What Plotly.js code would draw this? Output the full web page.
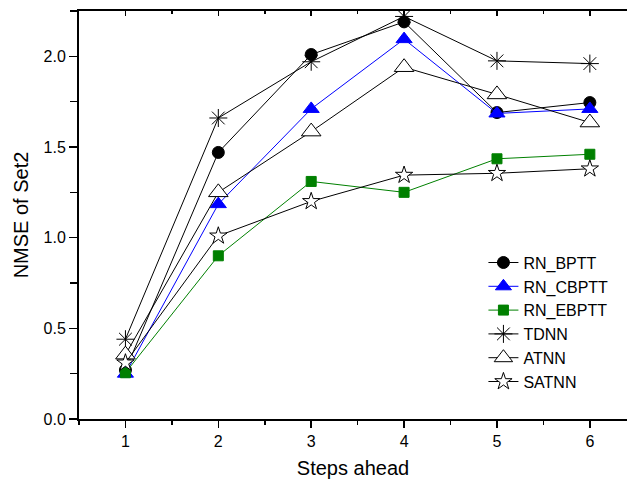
<!DOCTYPE html>
<html>
<head>
<meta charset="utf-8">
<script src="https://cdn.plot.ly/plotly-3.0.1.min.js"></script>
<style>html,body{margin:0;padding:0;background:#fff;}</style>
</head>
<body>
<div id="chart" style="width:627px;height:485px;"></div>
<script>
var steps = [1, 2, 3, 4, 5, 6];
var rnBPTT  = [0.27, 1.47, 2.01, 2.19, 1.69, 1.745];
var rnCBPTT = [0.25, 1.185, 1.71, 2.095, 1.685, 1.71];
var rnEBPTT = [0.255, 0.9, 1.31, 1.25, 1.435, 1.46];
var tdnn    = [0.44, 1.66, 1.97, 2.22, 1.975, 1.96];
var atnn    = [0.355, 1.25, 1.585, 1.94, 1.79, 1.635];
var satnn   = [0.31, 1.01, 1.2, 1.345, 1.355, 1.38];

var FONT = "Arial, 'Liberation Sans', sans-serif";

function tr(name, y, color, symbol, size, fill, lineColor) {
  return {
    x: steps, y: y, name: name, type: 'scatter', mode: 'lines+markers',
    line: {color: color, width: 1},
    marker: {symbol: symbol, size: size, color: fill,
             line: {color: lineColor, width: 1}}
  };
}

var data = [
  tr('RN_BPTT', rnBPTT, '#000000', 'circle', 12, '#000000', '#000000'),
  tr('RN_CBPTT', rnCBPTT, '#0000ff', 'triangle-up', 14, '#0000ff', '#0000ff'),
  tr('RN_EBPTT', rnEBPTT, '#008000', 'square', 10, '#008000', '#008000'),
  tr('TDNN', tdnn, '#000000', 'asterisk-open', 15, '#000000', '#000000'),
  tr('ATNN', atnn, '#000000', 'triangle-up', 17, '#ffffff', '#000000'),
  tr('SATNN', satnn, '#000000', 'star', 13, '#ffffff', '#000000')
];

var layout = {
  width: 627, height: 485,
  margin: {l: 79, r: 0, t: 11, b: 66},
  paper_bgcolor: '#ffffff', plot_bgcolor: '#ffffff',
  font: {family: FONT, color: '#000000', size: 16},
  showlegend: true,
  legend: {x: 0.738, y: 0.425, xanchor: 'left', yanchor: 'top',
           bgcolor: 'rgba(0,0,0,0)', font: {family: FONT, size: 16, color: '#000'}},
  xaxis: {
    range: [0.5, 6.4], showgrid: false, zeroline: false,
    showline: true, linecolor: '#000', linewidth: 2,
    tickvals: steps, ticktext: ['1','2','3','4','5','6'],
    ticks: 'outside', ticklen: 7, tickwidth: 1.5, tickcolor: '#000',
    minor: {dtick: 0.5, tick0: 0.5, ticks: 'outside', ticklen: 4, tickwidth: 1.5, tickcolor: '#000'},
    tickfont: {family: FONT, size: 16},
    title: {text: 'Steps ahead', font: {family: FONT, size: 20}, standoff: 12}
  },
  xaxis2: {
    overlaying: 'x', side: 'top', matches: 'x', range: [0.5, 6.4],
    showgrid: false, zeroline: false, showline: true, linecolor: '#000', linewidth: 2,
    tickvals: steps, showticklabels: false,
    ticks: 'inside', ticklen: 5, tickwidth: 1.5, tickcolor: '#000',
    minor: {dtick: 0.5, tick0: 0.5, ticks: 'inside', ticklen: 3, tickwidth: 1.5, tickcolor: '#000'}
  },
  yaxis: {
    range: [0, 2.25], showgrid: false, zeroline: false,
    showline: true, linecolor: '#000', linewidth: 2,
    tick0: 0, dtick: 0.5, tickformat: '.1f',
    ticks: 'outside', ticklen: 8, tickwidth: 1.5, tickcolor: '#000',
    minor: {dtick: 0.25, tick0: 0, ticks: 'outside', ticklen: 7, tickwidth: 1.5, tickcolor: '#000'},
    tickfont: {family: FONT, size: 16},
    title: {text: 'NMSE of Set2', font: {family: FONT, size: 20}, standoff: 10}
  }
};

// invisible trace to activate the mirrored top axis
data.push({x: [1], y: [0], xaxis: 'x2', yaxis: 'y', mode: 'markers',
           marker: {opacity: 0}, showlegend: false, hoverinfo: 'skip'});

Plotly.newPlot('chart', data, layout, {displayModeBar: false, staticPlot: true});
</script>
</body>
</html>
